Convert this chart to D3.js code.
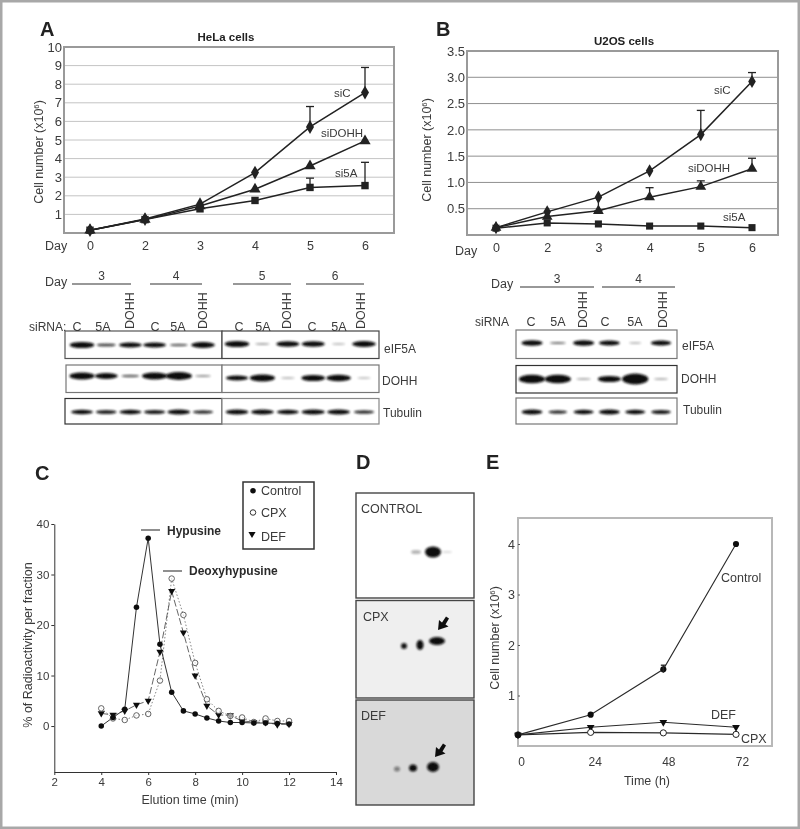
<!DOCTYPE html>
<html><head><meta charset="utf-8">
<script src="https://d3js.org/d3.v7.min.js"></script>
<style>
html,body{margin:0;padding:0;background:#fff}
svg{display:block}
text{font-family:"Liberation Sans",Arial,sans-serif;fill:#3a3a3a}
</style></head><body>
<svg id="c" width="800" height="829"></svg>
<script>
// ---------- data ----------
const days = ["0","2","3","4","5","6"];
const helaC = [0.15,0.75,1.55,3.25,5.7,7.55];
const helaDOHH = [0.15,0.72,1.45,2.35,3.6,4.95];
const hela5A = [0.15,0.72,1.3,1.75,2.45,2.55];
const helaCErr = [null,null,null,null,6.8,8.9];
const hela5AErr = [null,null,null,null,2.95,3.8];
const helaTicks = [1,2,3,4,5,6,7,8,9,10];
const u2C = [0.14,0.44,0.72,1.22,1.91,2.92];
const u2DOHH = [0.14,0.35,0.46,0.72,0.92,1.26];
const u25A = [0.13,0.23,0.21,0.17,0.17,0.14];
const u2CErr = [null,null,0.46,null,2.37,3.09];
const u2DOHHErr = [null,null,null,0.9,1.03,1.46];
const u2Ticks = [0.5,1,1.5,2,2.5,3,3.5];
const lanes = ["C","5A","DOHH"];
const blotAeIF1 = [0.95,0.5,0.8,0.8,0.4,0.9];
const blotAeIF2 = [0.95,0.12,0.85,0.85,0.02,0.9];
const blotADOHH1 = [1,0.85,0.4,1,1.15,0.2];
const blotADOHH2 = [0.75,1,0.04,0.9,0.95,0];
const blotATub1 = [0.75,0.65,0.75,0.7,0.8,0.6];
const blotATub2 = [0.8,0.8,0.75,0.85,0.8,0.6];
const blotBeIF = [0.85,0.35,0.85,0.8,0.04,0.75];
const blotBDOHH = [1.2,1.2,0.1,0.85,1.5,0.08];
const blotBTub = [0.8,0.6,0.75,0.8,0.75,0.7];
const elution = [4,4.5,5,5.5,6,6.5,7,7.5,8,8.5,9,9.5,10,10.5,11,11.5,12];
const control = [0,1.7,3.3,23.5,37.2,16.2,6.7,3,2.4,1.6,1,0.7,0.7,0.6,0.6,0.5,0.4];
const cpx = [3.5,1.5,1.2,2.1,2.4,9,29.2,22,12.5,5.3,3,2,1.7,0.8,1.5,1,1];
const def = [2.5,2.2,3,4.2,5,14.7,26.7,18.5,10,4,2.2,2.1,1,0.8,0.7,0.3,0.4];
const hours = [0,24,48,72];
const growControl = [0.22,0.62,1.52,4.0];
const growDEF = [0.22,0.37,0.47,0.37];
const growCPX = [0.22,0.27,0.26,0.23];
const controlSpots = [[416,552,5,2,0.3],[433,552,8,5.5,1],[447,552,5,1,0.15]];
const cpxSpots = [[404,646,3,3,0.95],[420,645,3.5,5,1],[437,641,8,4,1]];
const defSpots = [[397,769,3,2.5,0.45],[413,768,4,3.5,1],[433,767,6,5,1]];

// ---------- helpers ----------
const svg = d3.select("#c");
const defs = svg.append("defs");
const addBlur=(id,s)=>defs.append("filter").attr("id",id).attr("x","-30%").attr("y","-60%").attr("width","160%").attr("height","220%")
  .append("feGaussianBlur").attr("stdDeviation",s);
addBlur("b1",1); addBlur("b2",0.35); addBlur("b3",0.9);
const ink="#222", mid="#333";
const root = svg.append("g").attr("filter","url(#b2)");
root.append("rect").attr("x",1).attr("y",1).attr("width",798).attr("height",827).attr("fill","#fff").attr("stroke","#a8a8a8").attr("stroke-width",3);

function text(x,y,s,o={}){
  const t=root.append("text").attr("x",x).attr("y",y).attr("font-size",o.size||12.5)
    .attr("font-weight",o.bold?"bold":null).attr("text-anchor",o.anchor||"start").text(s);
  if(o.fill) t.style("fill",o.fill);
  if(o.rot) t.attr("transform",`rotate(${o.rot} ${x} ${y})`);
  return t;
}
function yLabel(x,y,size){
  const t=root.append("text").attr("transform",`translate(${x},${y}) rotate(-90)`).attr("text-anchor","middle").attr("font-size",size);
  t.append("tspan").text("Cell number (x10");
  t.append("tspan").attr("font-size",size*0.62).attr("dy",-4).text("6");
  t.append("tspan").attr("dy",4).text(")");
}
const sym={
  diamond:d3.symbol().type(d3.symbolDiamond).size(62)(),
  triangle:d3.symbol().type(d3.symbolTriangle).size(62)(),
  square:d3.symbol().type(d3.symbolSquare).size(55)(),
  circle:d3.symbol().type(d3.symbolCircle).size(44)()
};
function series(g,x,y,keys,vals,shape,size){
  const line=d3.line().x((d,i)=>x(keys[i])).y(d=>y(d));
  g.append("path").attr("d",line(vals)).attr("fill","none").attr("stroke",ink).attr("stroke-width",1.5);
  g.selectAll(null).data(vals).join("path")
    .attr("d",d3.symbol().type(shape).size(size)())
    .attr("transform",(d,i)=>`translate(${x(keys[i])},${y(d)})`).attr("fill",ink);
}
function errs(g,x,y,keys,vals,tops,cap){
  tops.forEach((t,i)=>{ if(t==null) return;
    g.append("line").attr("x1",x(keys[i])).attr("x2",x(keys[i])).attr("y1",y(vals[i])).attr("y2",y(t)).attr("stroke",ink).attr("stroke-width",1.3);
    g.append("line").attr("x1",x(keys[i])-cap).attr("x2",x(keys[i])+cap).attr("y1",y(t)).attr("y2",y(t)).attr("stroke",ink).attr("stroke-width",1.3);
  });
}
function growth(p){
  const g=root.append("g");
  const x=d3.scalePoint().domain(days).range(p.xr);
  const y=d3.scaleLinear().domain([0,p.max]).range([p.b,p.t]);
  g.selectAll(null).data(p.ticks.slice(0,-1)).join("line")
    .attr("x1",p.l).attr("x2",p.r).attr("y1",d=>y(d)).attr("y2",d=>y(d)).attr("stroke",p.grid).attr("stroke-width",1);
  g.append("rect").attr("x",p.l).attr("y",p.t).attr("width",p.r-p.l).attr("height",p.b-p.t).attr("fill","none").attr("stroke","#9a9a9a").attr("stroke-width",2);
  const ay=g.append("g").attr("transform",`translate(${p.l},0)`).call(d3.axisLeft(y).tickValues(p.ticks).tickSize(0).tickPadding(2).tickFormat(p.fmt));
  ay.select(".domain").remove(); ay.selectAll("text").attr("font-size",13).style("font-family",'"Liberation Sans"');
  const ax=g.append("g").attr("transform",`translate(0,${p.b})`).call(d3.axisBottom(x).tickSize(0).tickPadding(p.pad));
  ax.select(".domain").remove(); ax.selectAll("text").attr("font-size",12.5).style("font-family",'"Liberation Sans"');
  p.series.forEach(s=>series(g,x,y,days,s.v,s.t,p.msize));
  p.errs.forEach(e=>errs(g,x,y,days,e[0],e[1],4));
}

// ---------- panels A and B ----------
text(40,36,"A",{size:20,bold:true,fill:"#222"});
text(226,41,"HeLa cells",{size:11.5,bold:true,anchor:"middle",fill:"#222"});
growth({l:64,r:394,t:47,b:233,xr:[90,365],max:10,ticks:helaTicks,grid:"#c4c4c4",fmt:d3.format("d"),pad:8,msize:55,
  series:[{v:helaC,t:d3.symbolDiamond},{v:helaDOHH,t:d3.symbolTriangle},{v:hela5A,t:d3.symbolSquare}],
  errs:[[helaC,helaCErr],[hela5A,hela5AErr]]});
yLabel(43,152,12.5);
text(45,250,"Day");
text(334,97,"siC",{size:11.5}); text(321,137,"siDOHH",{size:11.5}); text(335,177,"si5A",{size:11.5});

text(436,36,"B",{size:20,bold:true,fill:"#222"});
text(624,45,"U2OS cells",{size:11.5,bold:true,anchor:"middle",fill:"#222"});
growth({l:467,r:778,t:51,b:235,xr:[496,752],max:3.5,ticks:u2Ticks,grid:"#8f8f8f",fmt:d3.format(".1f"),pad:8,msize:50,
  series:[{v:u2C,t:d3.symbolDiamond},{v:u2DOHH,t:d3.symbolTriangle},{v:u25A,t:d3.symbolSquare}],
  errs:[[u2C,u2CErr],[u2DOHH,u2DOHHErr]]});
yLabel(431,150,12.5);
text(455,255,"Day");
text(714,94,"siC",{size:11.5}); text(688,172,"siDOHH",{size:11.5}); text(723,221,"si5A",{size:11.5});

// ---------- western blots ----------
function frame(x0,x1,y0,y1,c){
  root.append("rect").attr("x",x0).attr("y",y0).attr("width",x1-x0).attr("height",y1-y0).attr("fill","#fff").attr("stroke",c).attr("stroke-width",1.2);
}
function bands(x0,x1,yc,vals,w,h){
  const x=d3.scalePoint().domain(d3.range(vals.length)).range([x0,x1]);
  root.append("g").selectAll(null).data(vals).join("ellipse")
    .attr("cx",(d,i)=>x(i)).attr("cy",yc)
    .attr("rx",d=>w*Math.min(1.1,0.55+0.5*d)).attr("ry",d=>h*Math.max(0.3,d))
    .attr("fill","#111").attr("opacity",d=>Math.min(1,0.25+d)).attr("filter","url(#b3)");
}
frame(65,222,331,358.5,"#555"); frame(222,379,331,358.5,"#444");
bands(82,203,345,blotAeIF1,12,3.2); bands(237,364,344,blotAeIF2,12,3.2);
frame(66,222,365,392.5,"#777"); frame(222,379,365,392.5,"#777");
bands(82,203,376,blotADOHH1,12,3.4); bands(237,364,378,blotADOHH2,12,3.4);
frame(65,222,398.5,424,"#333"); frame(222,379,398.5,424,"#888");
bands(82,203,412,blotATub1,12,3); bands(237,364,412,blotATub2,12,3);

frame(516,677,330,358.5,"#777"); bands(532,661,343,blotBeIF,11,3.2);
frame(516,677,365.5,393,"#333"); bands(532,661,379,blotBDOHH,12,3.6);
frame(516,677,398,424,"#777"); bands(532,661,412,blotBTub,11,3);

function hline(x0,x1,y){root.append("line").attr("x1",x0).attr("x2",x1).attr("y1",y).attr("y2",y).attr("stroke",mid).attr("stroke-width",1.1);}
function dayHeader(spans){ spans.forEach(s=>{hline(s[0],s[1],s[2]); text((s[0]+s[1])/2-s[4],s[2]-4,s[3],{anchor:"middle",size:12});}); }
function laneLabels(xs,y,yRot){
  xs.forEach((x,i)=>{
    const l=lanes[i%3];
    if(l==="DOHH"){ root.append("text").attr("transform",`translate(${x+4},${yRot}) rotate(-90)`).attr("font-size",12.5).text(l); }
    else text(x,y,l,{anchor:"middle",size:12.5});
  });
}
text(45,286,"Day",{size:12.5});
dayHeader([[72,131,284,"3",0],[150,202,284,"4",0],[233,291,284,"5",0],[306,364,284,"6",0]]);
text(29,331,"siRNA:",{size:12});
laneLabels([77,103,130,155,178,203,239,263,287,312,339,361],331,329);
text(384,353,"eIF5A",{size:12}); text(382,385,"DOHH",{size:12}); text(383,417,"Tubulin",{size:12});

text(491,288,"Day",{size:12.5});
dayHeader([[520,594,287,"3",0],[602,675,287,"4",0]]);
text(475,326,"siRNA",{size:12});
laneLabels([531,558,583,605,635,663],326,328);
text(682,350,"eIF5A",{size:12}); text(681,383,"DOHH",{size:12}); text(683,414,"Tubulin",{size:12});

// ---------- panel C ----------
text(35,480,"C",{size:20,bold:true,fill:"#222"});
(function(){
  const x=d3.scaleLinear().domain([2,14]).range([54.3,336]);
  const y=d3.scaleLinear().domain([-9.1,40]).range([772,524]);
  const g=root.append("g");
  const ax=g.append("g").attr("transform","translate(0,772)").call(d3.axisBottom(x).tickValues([2,4,6,8,10,12,14]).tickSize(3).tickPadding(3).tickSizeOuter(0));
  ax.select(".domain").attr("stroke",mid); ax.selectAll("line").attr("stroke",mid);
  ax.selectAll("text").attr("font-size",11.5).style("font-family",'"Liberation Sans"');
  const ay=g.append("g").attr("transform","translate(54.3,0)").call(d3.axisLeft(y).tickValues([0,10,20,30,40]).tickSize(3).tickPadding(2).tickSizeOuter(0));
  ay.select(".domain").attr("stroke",mid); ay.selectAll("line").attr("stroke",mid);
  ay.selectAll("text").attr("font-size",11.5).style("font-family",'"Liberation Sans"');
  const line=d3.line().x((d,i)=>x(elution[i])).y(d=>y(d));
  g.append("path").attr("d",line(cpx)).attr("fill","none").attr("stroke","#777").attr("stroke-width",0.9).attr("stroke-dasharray","1.5 2");
  g.append("path").attr("d",line(def)).attr("fill","none").attr("stroke","#555").attr("stroke-width",0.9).attr("stroke-dasharray","7 2.5");
  g.append("path").attr("d",line(control)).attr("fill","none").attr("stroke","#333").attr("stroke-width",1);
  const down=d3.symbol().type(d3.symbolTriangle).size(22)();
  const circ=d3.symbol().type(d3.symbolCircle).size(24)();
  g.selectAll(null).data(def).join("path").attr("d",down).attr("transform",(d,i)=>`translate(${x(elution[i])},${y(d)}) rotate(180)`).attr("fill","#111");
  g.selectAll(null).data(cpx).join("path").attr("d",circ).attr("transform",(d,i)=>`translate(${x(elution[i])},${y(d)})`).attr("fill","#fff").attr("fill-opacity",0.6).attr("stroke","#555").attr("stroke-width",0.9);
  g.selectAll(null).data(control).join("path").attr("d",circ).attr("transform",(d,i)=>`translate(${x(elution[i])},${y(d)})`).attr("fill","#111");
  // legend
  root.append("rect").attr("x",243).attr("y",482).attr("width",71).attr("height",67).attr("fill","#fff").attr("stroke","#333").attr("stroke-width",1.5);
  root.append("path").attr("d",circ).attr("transform","translate(253,490.7)").attr("fill","#111");
  root.append("path").attr("d",circ).attr("transform","translate(253,512.5)").attr("fill","#fff").attr("stroke","#333").attr("stroke-width",1);
  root.append("path").attr("d",down).attr("transform","translate(252,534) rotate(180)").attr("fill","#111");
  text(261,494.5,"Control",{size:12.5}); text(261,517,"CPX",{size:12.5}); text(261,541,"DEF",{size:12.5});
  hline(141,160,530); text(167,535,"Hypusine",{size:12,bold:true,fill:"#2a2a2a"});
  hline(163,182,571); text(189,574.5,"Deoxyhypusine",{size:12,bold:true,fill:"#2a2a2a"});
  root.append("text").attr("transform","translate(32,645) rotate(-90)").attr("text-anchor","middle").attr("font-size",12.5).text("% of Radioactivity per fraction");
  text(190,804,"Elution time (min)",{size:12.5,anchor:"middle"});
})();

// ---------- panel D ----------
text(356,469,"D",{size:20,bold:true,fill:"#222"});
function gel(y0,y1,shade,label,lx,spots,arrow){
  root.append("rect").attr("x",356).attr("y",y0).attr("width",118).attr("height",y1-y0).attr("fill",shade).attr("stroke","#444").attr("stroke-width",1.4);
  root.append("g").selectAll(null).data(spots).join("ellipse")
    .attr("cx",d=>d[0]).attr("cy",d=>d[1]).attr("rx",d=>d[2]).attr("ry",d=>d[3]).attr("opacity",d=>d[4]).attr("fill","#0c0c0c").attr("filter","url(#b1)");
  text(lx,y0+20,label,{size:12.5});
  if(arrow){
    const [tx,ty]=arrow;
    root.append("path").attr("d",`M${tx},${ty} l1,-10 l3,2.5 l4,-6 l3,2 l-3.5,6 l3,2 Z`).attr("fill","#111");
  }
}
gel(493,598,"#ffffff","CONTROL",361,controlSpots);
gel(600.5,698,"#efefef","CPX",363,cpxSpots,[438,630]);
gel(700,805,"#d9d9d9","DEF",361,defSpots,[435,757]);

// ---------- panel E ----------
text(486,469,"E",{size:20,bold:true,fill:"#222"});
(function(){
  const x=d3.scaleLinear().domain([0,72]).range([518,736]);
  const xl=d3.scaleLinear().domain([0,72]).range([521,742]);
  const y=d3.scaleLinear().domain([0,4]).range([746,544]);
  const g=root.append("g");
  g.append("rect").attr("x",518).attr("y",518).attr("width",254).attr("height",228).attr("fill","none").attr("stroke","#b8b8b8").attr("stroke-width",2);
  const ay=g.append("g").attr("transform","translate(518,0)").call(d3.axisLeft(y).tickValues([1,2,3,4]).tickSize(-2).tickPadding(3).tickFormat(d3.format("d")));
  ay.select(".domain").remove(); ay.selectAll("line").attr("stroke","#555");
  ay.selectAll("text").attr("font-size",12.5).style("font-family",'"Liberation Sans"');
  const ax=g.append("g").attr("transform","translate(0,746)").call(d3.axisBottom(xl).tickValues(hours).tickSize(0).tickPadding(11));
  ax.select(".domain").remove(); ax.selectAll("text").attr("font-size",12).style("font-family",'"Liberation Sans"');
  const line=d3.line().x((d,i)=>x(hours[i])).y(d=>y(d));
  [growCPX,growDEF,growControl].forEach(v=>g.append("path").attr("d",line(v)).attr("fill","none").attr("stroke","#2a2a2a").attr("stroke-width",1.1));
  const circ=d3.symbol().type(d3.symbolCircle).size(30)();
  const down=d3.symbol().type(d3.symbolTriangle).size(26)();
  g.selectAll(null).data(growDEF).join("path").attr("d",down).attr("transform",(d,i)=>`translate(${x(hours[i])},${y(d)}) rotate(180)`).attr("fill","#111");
  g.selectAll(null).data(growCPX).join("path").attr("d",circ).attr("transform",(d,i)=>`translate(${x(hours[i])},${y(d)})`).attr("fill","#fff").attr("stroke","#222");
  g.selectAll(null).data(growControl).join("path").attr("d",circ).attr("transform",(d,i)=>`translate(${x(hours[i])},${y(d)})`).attr("fill","#111");
  errs(g,x,y,hours,[0,0,1.45,0],[null,null,1.6,null],2.5);
  yLabel(499,638,12.5);
  text(647,785,"Time (h)",{size:12.5,anchor:"middle"});
  text(721,582,"Control",{size:12.5}); text(711,719,"DEF",{size:12.5}); text(741,743,"CPX",{size:12.5});
})();
</script></body></html>
